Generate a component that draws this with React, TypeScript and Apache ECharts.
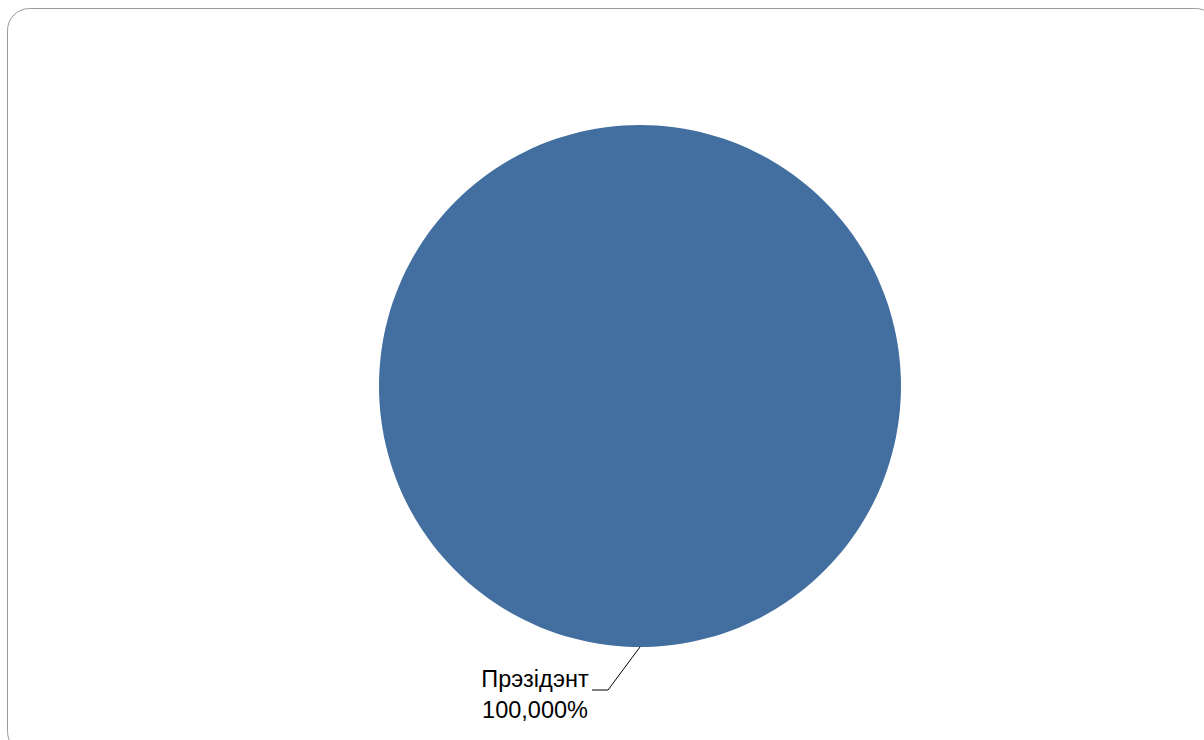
import React, { useEffect, useRef } from "react";
import * as echarts from "echarts";

const categories = ["Прэзідэнт"];
const values = [100];
const percentLabels = ["100,000%"];

export default function App() {
  const ref = useRef<HTMLDivElement>(null);
  useEffect(() => {
    const chart = echarts.init(ref.current!, null, { renderer: "svg" });
    chart.setOption({
      animation: false,
      backgroundColor: "#ffffff",
      graphic: [
        {
          type: "rect",
          shape: { x: 7.5, y: 8.5, width: 1210, height: 745, r: 22 },
          style: { fill: "none", stroke: "#999999", lineWidth: 1 },
          silent: true,
          z: 0,
        },
      ],
      series: [
        {
          type: "pie",
          center: [640, 386],
          radius: [0, 261],
          startAngle: 90,
          data: categories.map((c, i) => ({ name: c, value: values[i] })),
          itemStyle: { color: "#426fa0" },
          label: {
            show: true,
            formatter: (p: any) => `${p.name}\n${percentLabels[p.dataIndex]}`,
            fontFamily: "Liberation Sans, Arial, sans-serif",
            fontSize: 23.5,
            lineHeight: 31,
            color: "#000000",
            align: "center",
          },
          labelLine: {
            show: true,
            lineStyle: { color: "#000000", width: 1 },
          },
          labelLayout: () => ({
            x: 535,
            y: 694,
            align: "center",
            verticalAlign: "middle",
            labelLinePoints: [
              [640, 647],
              [608, 690],
              [592, 690],
            ],
          }),
          emphasis: { disabled: true },
        },
      ],
    });
    return () => chart.dispose();
  }, []);
  return (
    <div
      ref={ref}
      style={{ width: 1204, height: 740, position: "absolute", left: 0, top: 0 }}
    />
  );
}
